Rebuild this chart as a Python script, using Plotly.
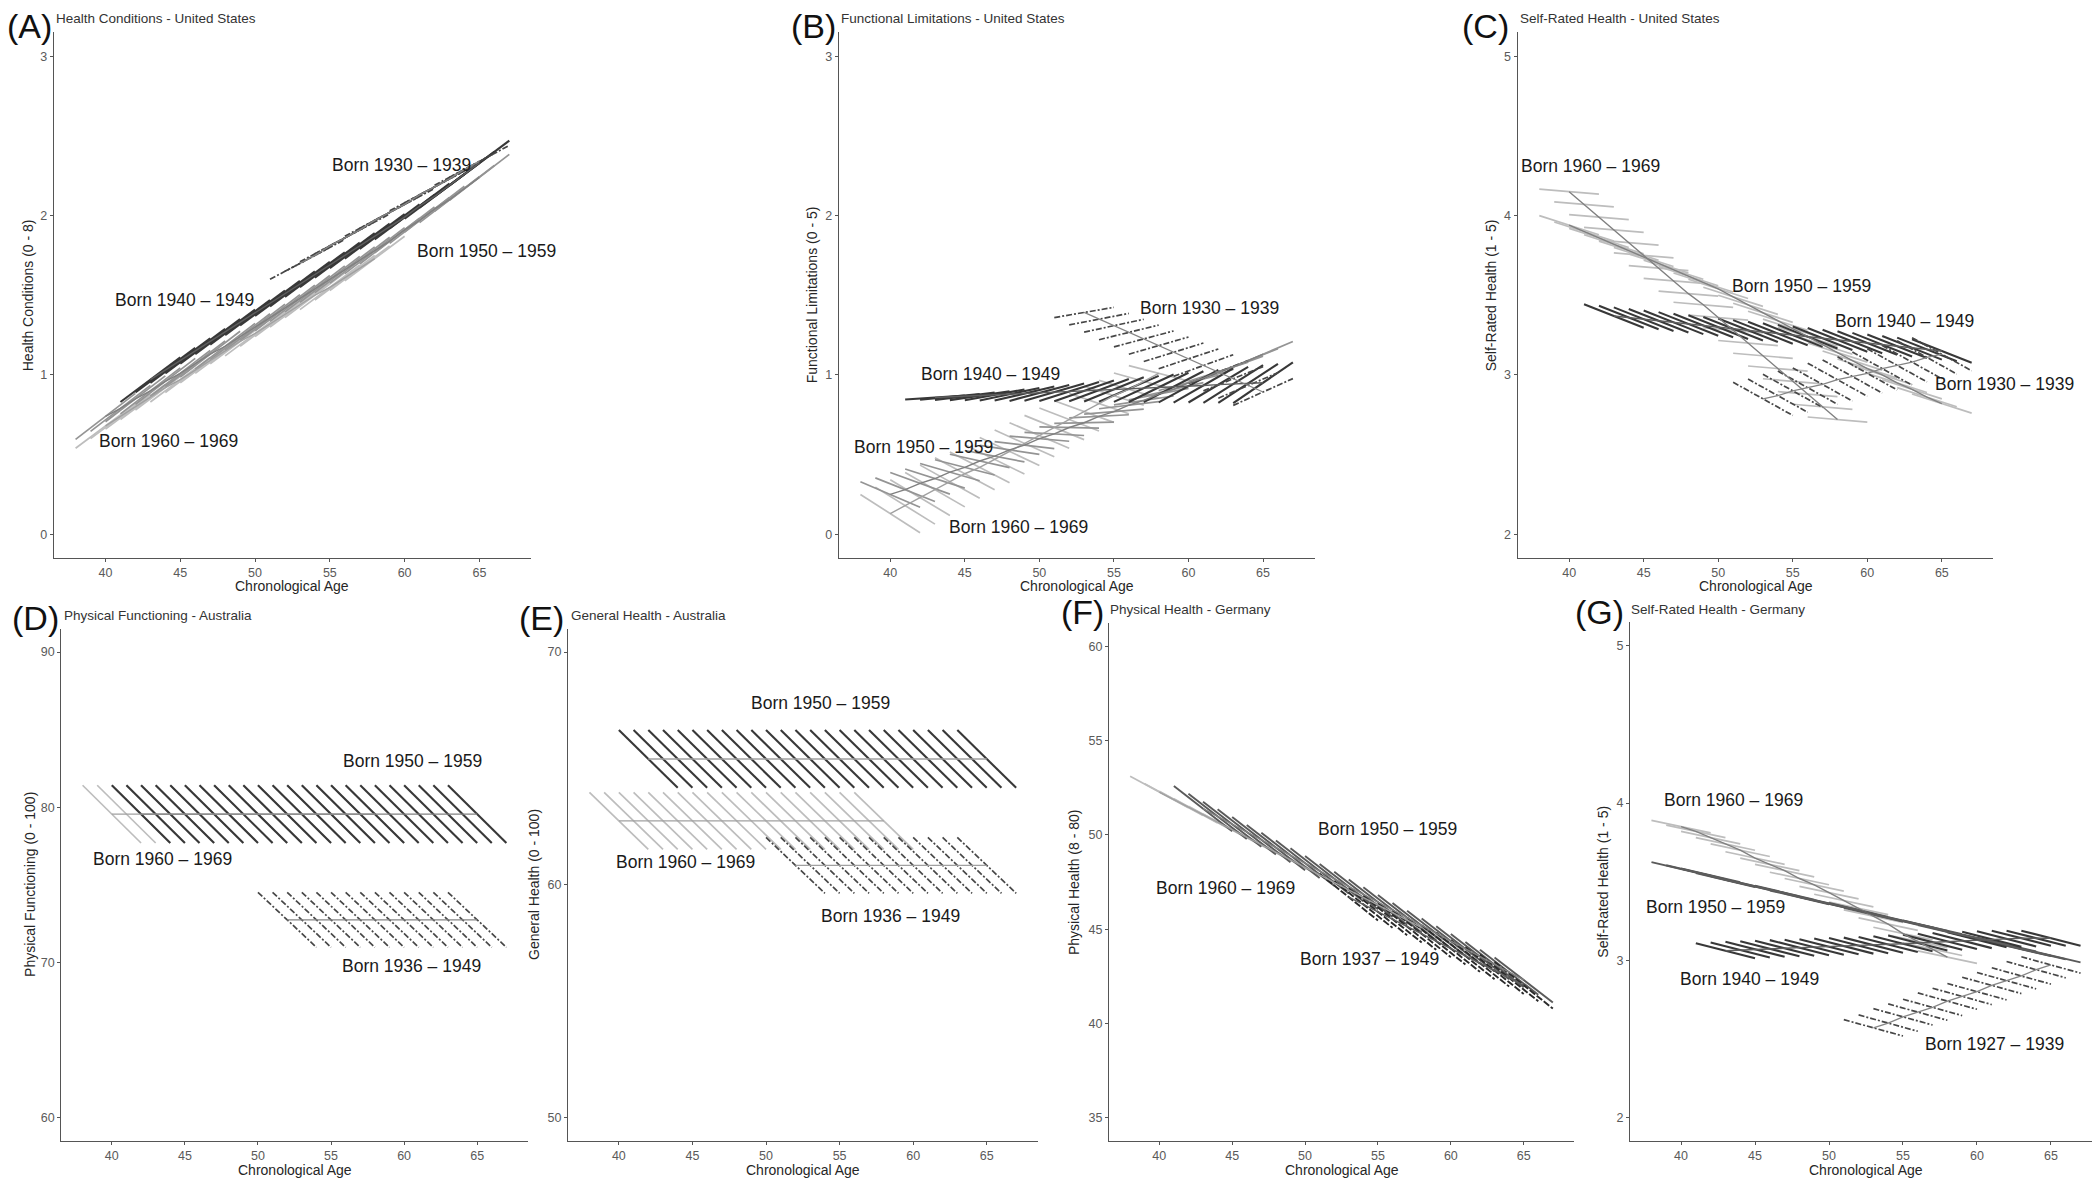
import plotly.graph_objects as go

W, H = 2100, 1181
FONT = "Liberation Sans, Arial, sans-serif"
SEG_LEN = 4
X_RANGE = [36.55, 68.45]
X_TICKS = [40, 45, 50, 55, 60, 65]

# segment start ages (chronological age at the start of each 4-year segment)
START_38_56 = [38, 39, 40, 41, 42, 43, 44, 45, 46, 47, 48, 49, 50, 51, 52, 53, 54, 55, 56]
START_38_63 = [38, 39, 40, 41, 42, 43, 44, 45, 46, 47, 48, 49, 50, 51, 52, 53, 54, 55, 56,
               57, 58, 59, 60, 61, 62, 63]
START_40_63 = [40, 41, 42, 43, 44, 45, 46, 47, 48, 49, 50, 51, 52, 53, 54, 55, 56, 57, 58,
               59, 60, 61, 62, 63]
START_41_63 = [41, 42, 43, 44, 45, 46, 47, 48, 49, 50, 51, 52, 53, 54, 55, 56, 57, 58, 59,
               60, 61, 62, 63]
START_50_63 = [50, 51, 52, 53, 54, 55, 56, 57, 58, 59, 60, 61, 62, 63]
START_51_63 = [51, 52, 53, 54, 55, 56, 57, 58, 59, 60, 61, 62, 63]

# ---------------- (A) Health Conditions - United States ----------------
A_MID_1960 = [0.68, 0.74, 0.80, 0.86, 0.92, 0.97, 1.03, 1.09, 1.15, 1.21, 1.26, 1.32, 1.38,
              1.44, 1.50, 1.55, 1.61, 1.67, 1.73]
A_SLOPE_1960 = 0.07
A_MID_1950 = [0.74, 0.79, 0.85, 0.90, 0.96, 1.01, 1.07, 1.13, 1.18, 1.24, 1.30, 1.36, 1.42,
              1.48, 1.54, 1.60, 1.66, 1.72, 1.78, 1.84, 1.91, 1.97, 2.04, 2.10, 2.17, 2.24]
A_SLOPE_1950 = 0.072
A_MID_1940 = [0.97, 1.03, 1.09, 1.15, 1.21, 1.27, 1.33, 1.39, 1.45, 1.51, 1.57, 1.63, 1.69,
              1.75, 1.81, 1.87, 1.93, 1.99, 2.06, 2.12, 2.19, 2.26, 2.33]
A_SLOPE_1940 = 0.07
A_MID_1930 = [1.70, 1.75, 1.81, 1.86, 1.91, 1.97, 2.02, 2.07, 2.13, 2.18, 2.23, 2.29, 2.34]
A_SLOPE_1930 = 0.05
A_LABELS = ["Born 1930 – 1939", "Born 1950 – 1959", "Born 1940 – 1949", "Born 1960 – 1969"]
A_LABEL_X = [59.8, 65.5, 45.3, 44.2]
A_LABEL_Y = [2.32, 1.78, 1.47, 0.586]

# ---------------- (B) Functional Limitations - United States ----------------
B_MID_1960 = [0.13, 0.18, 0.23, 0.28, 0.33, 0.38, 0.42, 0.47, 0.52, 0.57, 0.62, 0.67, 0.72,
              0.77, 0.82, 0.87, 0.91, 0.96, 1.01]
B_SLOPE_1960 = [-0.060, -0.058, -0.056, -0.054, -0.052, -0.050, -0.048, -0.046, -0.044,
                -0.042, -0.040, -0.038, -0.036, -0.034, -0.032, -0.030, -0.028, -0.026, -0.024]
B_MID_1950 = [0.25, 0.28, 0.32, 0.35, 0.39, 0.42, 0.46, 0.49, 0.53, 0.56, 0.60, 0.63, 0.67,
              0.70, 0.74, 0.77, 0.81, 0.84, 0.88, 0.91, 0.95, 0.98, 1.02, 1.05, 1.09, 1.13]
B_SLOPE_1950 = [-0.040, -0.037, -0.034, -0.030, -0.027, -0.024, -0.021, -0.018, -0.014,
                -0.011, -0.008, -0.005, -0.002, 0.002, 0.005, 0.008, 0.011, 0.014, 0.018,
                0.021, 0.024, 0.027, 0.030, 0.034, 0.037, 0.040]
B_MID_1940 = [0.858, 0.862, 0.866, 0.870, 0.875, 0.879, 0.883, 0.887, 0.892, 0.896, 0.900,
              0.905, 0.909, 0.913, 0.917, 0.922, 0.926, 0.930, 0.934, 0.939, 0.943, 0.947, 0.951]
B_SLOPE_1940 = [0.006, 0.009, 0.0115, 0.014, 0.017, 0.0195, 0.022, 0.025, 0.027, 0.030,
                0.0325, 0.035, 0.038, 0.0405, 0.043, 0.046, 0.0485, 0.051, 0.054, 0.056,
                0.059, 0.0615, 0.064]
B_MID_1930 = [1.392, 1.350, 1.309, 1.267, 1.226, 1.184, 1.142, 1.101, 1.059, 1.018, 0.976,
              0.934, 0.893]
B_SLOPE_1930 = [0.016, 0.018, 0.020, 0.023, 0.025, 0.027, 0.029, 0.031, 0.034, 0.036, 0.038,
                0.040, 0.042]
B_LABELS = ["Born 1930 – 1939", "Born 1940 – 1949", "Born 1950 – 1959", "Born 1960 – 1969"]
B_LABEL_X = [61.4, 46.75, 42.24, 48.6]
B_LABEL_Y = [1.417, 1.006, 0.55, 0.047]

# ---------------- (C) Self-Rated Health - United States ----------------
C_MID_1960 = [4.15, 4.07, 3.99, 3.91, 3.83, 3.75, 3.67, 3.59, 3.51, 3.44, 3.36, 3.28, 3.20,
              3.12, 3.04, 2.96, 2.88, 2.80, 2.72]
C_SLOPE_1960 = -0.008
C_MID_1950 = [3.94, 3.90, 3.86, 3.82, 3.78, 3.74, 3.70, 3.66, 3.62, 3.58, 3.54, 3.49, 3.44,
              3.39, 3.34, 3.29, 3.24, 3.19, 3.14, 3.09, 3.04, 3.00, 2.95, 2.91, 2.86, 2.82]
C_SLOPE_1950 = -0.03
C_MID_1940 = [3.37, 3.36, 3.35, 3.34, 3.33, 3.32, 3.31, 3.30, 3.29, 3.28, 3.27, 3.26, 3.25,
              3.24, 3.23, 3.22, 3.21, 3.20, 3.19, 3.18, 3.17, 3.16, 3.15]
C_SLOPE_1940 = -0.037
C_MID_1930 = [2.85, 2.87, 2.90, 2.92, 2.94, 2.97, 2.99, 3.01, 3.04, 3.06, 3.08, 3.11, 3.13]
C_SLOPE_1930 = -0.052
C_LABELS = ["Born 1960 – 1969", "Born 1950 – 1959", "Born 1940 – 1949", "Born 1930 – 1939"]
C_LABEL_X = [41.4, 55.56, 62.5, 69.2]
C_LABEL_Y = [4.31, 3.56, 3.34, 2.945]

# ---------------- (D) Physical Functioning - Australia ----------------
D_MID_1960 = [79.56, 79.56, 79.56, 79.56, 79.56, 79.56, 79.56, 79.56, 79.56, 79.56, 79.56,
              79.56, 79.56, 79.56, 79.56, 79.56, 79.56, 79.56, 79.56]
D_SLOPE_1960 = -0.93
D_MID_1950 = [79.56, 79.56, 79.56, 79.56, 79.56, 79.56, 79.56, 79.56, 79.56, 79.56, 79.56,
              79.56, 79.56, 79.56, 79.56, 79.56, 79.56, 79.56, 79.56, 79.56, 79.56, 79.56,
              79.56, 79.56]
D_SLOPE_1950 = -0.93
D_MID_1936 = [72.75, 72.75, 72.75, 72.75, 72.75, 72.75, 72.75, 72.75, 72.75, 72.75, 72.75,
              72.75, 72.75, 72.75]
D_SLOPE_1936 = -0.885
D_LABELS = ["Born 1950 – 1959", "Born 1960 – 1969", "Born 1936 – 1949"]
D_LABEL_X = [60.6, 43.5, 60.5]
D_LABEL_Y = [82.99, 76.7, 69.76]

# ---------------- (E) General Health - Australia ----------------
E_MID_1960 = [62.75, 62.75, 62.75, 62.75, 62.75, 62.75, 62.75, 62.75, 62.75, 62.75, 62.75,
              62.75, 62.75, 62.75, 62.75, 62.75, 62.75, 62.75, 62.75]
E_SLOPE_1960 = -0.61
E_MID_1950 = [65.41, 65.41, 65.41, 65.41, 65.41, 65.41, 65.41, 65.41, 65.41, 65.41, 65.41,
              65.41, 65.41, 65.41, 65.41, 65.41, 65.41, 65.41, 65.41, 65.41, 65.41, 65.41,
              65.41, 65.41]
E_SLOPE_1950 = -0.62
E_MID_1936 = [60.84, 60.84, 60.84, 60.84, 60.84, 60.84, 60.84, 60.84, 60.84, 60.84, 60.84,
              60.84, 60.84, 60.84]
E_SLOPE_1936 = -0.60
E_LABELS = ["Born 1950 – 1959", "Born 1960 – 1969", "Born 1936 – 1949"]
E_LABEL_X = [53.67, 44.54, 58.47]
E_LABEL_Y = [67.8, 60.98, 58.65]

# ---------------- (F) Physical Health - Germany ----------------
F_MID_1960 = [52.28, 51.88, 51.48, 51.08, 50.68, 50.28, 49.88, 49.48, 49.08, 48.68, 48.28,
              47.88, 47.48, 47.08, 46.68, 46.28, 45.88, 45.48, 45.08]
F_SLOPE_1960 = -0.42
F_MID_1950 = [51.40, 50.99, 50.57, 50.16, 49.75, 49.33, 48.92, 48.50, 48.09, 47.68, 47.26,
              46.85, 46.43, 46.02, 45.61, 45.19, 44.78, 44.36, 43.95, 43.54, 43.12, 42.71, 42.30]
F_SLOPE_1950 = -0.6
F_MID_1937 = [46.70, 46.31, 45.92, 45.53, 45.14, 44.75, 44.36, 43.97, 43.58, 43.19, 42.80,
              42.41, 42.02]
F_SLOPE_1937 = -0.62
F_LABELS = ["Born 1950 – 1959", "Born 1960 – 1969", "Born 1937 – 1949"]
F_LABEL_X = [55.66, 44.56, 54.43]
F_LABEL_Y = [50.31, 47.17, 43.43]

# ---------------- (G) Self-Rated Health - Germany ----------------
G_MID_1960 = [3.85, 3.82, 3.78, 3.74, 3.70, 3.65, 3.61, 3.57, 3.52, 3.48, 3.43, 3.38, 3.33,
              3.28, 3.23, 3.17, 3.12, 3.07, 3.02]
G_SLOPE_1960 = -0.02
G_MID_1950 = [3.58, 3.56, 3.54, 3.51, 3.49, 3.47, 3.45, 3.43, 3.40, 3.38, 3.36, 3.34, 3.32,
              3.29, 3.27, 3.25, 3.23, 3.21, 3.18, 3.16, 3.14, 3.12, 3.10, 3.07, 3.05, 3.03]
G_SLOPE_1950 = -0.022
G_MID_1940 = [3.060, 3.065, 3.070, 3.073, 3.076, 3.080, 3.083, 3.086, 3.090, 3.093, 3.096,
              3.100, 3.105, 3.110, 3.115, 3.120, 3.125, 3.130, 3.133, 3.136, 3.140, 3.140, 3.140]
G_SLOPE_1940 = -0.024
G_MID_1927 = [2.57, 2.60, 2.64, 2.67, 2.70, 2.74, 2.77, 2.80, 2.84, 2.87, 2.90, 2.94, 2.97]
G_SLOPE_1927 = -0.026
G_LABELS = ["Born 1960 – 1969", "Born 1950 – 1959", "Born 1940 – 1949", "Born 1927 – 1939"]
G_LABEL_X = [43.54, 42.31, 44.63, 61.2]
G_LABEL_Y = [4.02, 3.34, 2.88, 2.47]

# ---------------- styles ----------------
DASHDOT = "6px,2px,2px,2px"
SEG = {
    "light": dict(color="#bdbdbd", width=1.7, dash="solid"),
    "mid": dict(color="#949494", width=1.7, dash="solid"),
    "middark": dict(color="#5a5a5a", width=1.9, dash="solid"),
    "dark": dict(color="#383838", width=2.1, dash="solid"),
    "dashdot": dict(color="#474747", width=1.7, dash=DASHDOT),
    "dashed": dict(color="#2a2a2a", width=1.9, dash="7px,2px"),
}
LONG = {
    "light": dict(color="#a0a0a0", width=1.4),
    "mid": dict(color="#808080", width=1.4),
    "dark": dict(color="#5e5e5e", width=1.4),
    "old": dict(color="#858585", width=1.3),
}

BOTTOM_AXIS_Y = 1133.0
BOTTOM_TITLE_Y = 1162.0

PANELS = [
    dict(title="Health Conditions - United States", letter="(A)", ytitle="Health Conditions (0 - 8)",
         yrange=[-0.15, 3.15], yticks=[0, 1, 2, 3], box=(45.9, 523.0, 24.3, 550.2),
         letter_xy=(45, -2), sub_xy=(46, 11), ytitle_x=20, xtitle_y=577.6,
         cohorts=[(START_38_56, A_MID_1960, A_SLOPE_1960, "light", "light"),
                  (START_38_63, A_MID_1950, A_SLOPE_1950, "mid", "mid"),
                  (START_41_63, A_MID_1940, A_SLOPE_1940, "dark", "dark"),
                  (START_51_63, A_MID_1930, A_SLOPE_1930, "dashdot", "old")],
         labels=(A_LABELS, A_LABEL_X, A_LABEL_Y)),
    dict(title="Functional Limitations - United States", letter="(B)",
         ytitle="Functional Limitations (0 - 5)",
         yrange=[-0.15, 3.15], yticks=[0, 1, 2, 3], box=(830.8, 1306.5, 24.3, 550.2),
         letter_xy=(829, -2), sub_xy=(831, 11), ytitle_x=804, xtitle_y=577.6,
         cohorts=[(START_38_56, B_MID_1960, B_SLOPE_1960, "light", "light"),
                  (START_38_63, B_MID_1950, B_SLOPE_1950, "mid", "mid"),
                  (START_41_63, B_MID_1940, B_SLOPE_1940, "dark", "dark"),
                  (START_51_63, B_MID_1930, B_SLOPE_1930, "dashdot", "old")],
         labels=(B_LABELS, B_LABEL_X, B_LABEL_Y)),
    dict(title="Self-Rated Health - United States", letter="(C)", ytitle="Self-Rated Health (1 - 5)",
         yrange=[1.85, 5.15], yticks=[2, 3, 4, 5], box=(1509.7, 1985.3, 24.3, 550.2),
         letter_xy=(1502, -2), sub_xy=(1510, 11), ytitle_x=1483, xtitle_y=577.6,
         cohorts=[(START_38_56, C_MID_1960, C_SLOPE_1960, "light", "mid"),
                  (START_38_63, C_MID_1950, C_SLOPE_1950, "light", "mid"),
                  (START_41_63, C_MID_1940, C_SLOPE_1940, "dark", "dark"),
                  (START_51_63, C_MID_1930, C_SLOPE_1930, "dashdot", "old")],
         labels=(C_LABELS, C_LABEL_X, C_LABEL_Y)),
    dict(title="Physical Functioning - Australia", letter="(D)", ytitle="Physical Functioning (0 - 100)",
         yrange=[58.5, 91.5], yticks=[60, 70, 80, 90], box=(53.4, 519.6, 620.8, BOTTOM_AXIS_Y),
         letter_xy=(52, 590), sub_xy=(54, 608), ytitle_x=22, xtitle_y=BOTTOM_TITLE_Y,
         cohorts=[(START_38_56, D_MID_1960, D_SLOPE_1960, "light", "light"),
                  (START_40_63, D_MID_1950, D_SLOPE_1950, "dark", "mid"),
                  (START_50_63, D_MID_1936, D_SLOPE_1936, "dashdot", "old")],
         labels=(D_LABELS, D_LABEL_X, D_LABEL_Y)),
    dict(title="General Health - Australia", letter="(E)", ytitle="General Health (0 - 100)",
         yrange=[49, 71], yticks=[50, 60, 70], box=(560.1, 1029.5, 620.8, BOTTOM_AXIS_Y),
         letter_xy=(557, 590), sub_xy=(561, 608), ytitle_x=526, xtitle_y=BOTTOM_TITLE_Y,
         cohorts=[(START_38_56, E_MID_1960, E_SLOPE_1960, "light", "light"),
                  (START_40_63, E_MID_1950, E_SLOPE_1950, "dark", "light"),
                  (START_50_63, E_MID_1936, E_SLOPE_1936, "dashdot", "light")],
         labels=(E_LABELS, E_LABEL_X, E_LABEL_Y)),
    dict(title="Physical Health - Germany", letter="(F)", ytitle="Physical Health (8 - 80)",
         yrange=[33.75, 61.25], yticks=[35, 40, 45, 50, 55, 60],
         box=(1101.0, 1566.0, 615.1, BOTTOM_AXIS_Y),
         letter_xy=(1097, 584), sub_xy=(1100, 601), ytitle_x=1066, xtitle_y=BOTTOM_TITLE_Y,
         cohorts=[(START_38_56, F_MID_1960, F_SLOPE_1960, "light", "light"),
                  (START_41_63, F_MID_1950, F_SLOPE_1950, "middark", "mid"),
                  (START_51_63, F_MID_1937, F_SLOPE_1937, "dashed", "dark")],
         labels=(F_LABELS, F_LABEL_X, F_LABEL_Y)),
    dict(title="Self-Rated Health - Germany", letter="(G)", ytitle="Self-Rated Health (1 - 5)",
         yrange=[1.85, 5.15], yticks=[2, 3, 4, 5], box=(1622.0, 2094.0, 614.3, BOTTOM_AXIS_Y),
         letter_xy=(1617, 584), sub_xy=(1621, 601), ytitle_x=1595, xtitle_y=BOTTOM_TITLE_Y,
         cohorts=[(START_38_56, G_MID_1960, G_SLOPE_1960, "light", "mid"),
                  (START_38_63, G_MID_1950, G_SLOPE_1950, "middark", "dark"),
                  (START_41_63, G_MID_1940, G_SLOPE_1940, "dark", "dark"),
                  (START_51_63, G_MID_1927, G_SLOPE_1927, "dashdot", "old")],
         labels=(G_LABELS, G_LABEL_X, G_LABEL_Y)),
]


def px_x(v):
    return v / W


def px_y(v):
    return 1 - v / H


fig = go.Figure()
annotations = []
layout_axes = {}

for i, p in enumerate(PANELS, start=1):
    xa = "x" if i == 1 else f"x{i}"
    ya = "y" if i == 1 else f"y{i}"
    xkey = "xaxis" if i == 1 else f"xaxis{i}"
    ykey = "yaxis" if i == 1 else f"yaxis{i}"
    x0, x1, ytop, ybot = p["box"]
    px_per_year = (x1 - x0) / (X_RANGE[1] - X_RANGE[0])

    # within-person segments
    for starts, mids, slope, seg_style, _ in p["cohorts"]:
        slopes = slope if isinstance(slope, list) else [slope] * len(starts)
        xs, ys = [], []
        for a, m, s in zip(starts, mids, slopes):
            xs += [a, a + SEG_LEN, None]
            ys += [m - s * SEG_LEN / 2, m + s * SEG_LEN / 2, None]
        fig.add_trace(go.Scatter(x=xs, y=ys, mode="lines", line=SEG[seg_style],
                                 xaxis=xa, yaxis=ya, showlegend=False, hoverinfo="skip"))
    # cohort trajectories (through segment midpoints)
    for starts, mids, slope, _, long_style in p["cohorts"]:
        fig.add_trace(go.Scatter(x=[a + SEG_LEN / 2 for a in starts], y=mids, mode="lines",
                                 line=LONG[long_style], xaxis=xa, yaxis=ya,
                                 showlegend=False, hoverinfo="skip"))

    axis_common = dict(showgrid=False, zeroline=False, showline=True, linecolor="#555555",
                       linewidth=1.3, ticks="outside", ticklen=3, tickcolor="#555555",
                       tickwidth=1, tickfont=dict(family=FONT, size=12.5, color="#5a5a5a"))
    layout_axes[xkey] = dict(domain=[px_x(x0), px_x(x1)], range=X_RANGE, tickvals=X_TICKS,
                             anchor=ya, **axis_common)
    layout_axes[ykey] = dict(domain=[px_y(ybot), px_y(ytop)], range=p["yrange"],
                             tickvals=p["yticks"], anchor=xa, **axis_common)

    # cohort labels (labels hanging past the right edge are anchored inside and shifted)
    texts, lx, ly = p["labels"]
    for t, xv, yv in zip(texts, lx, ly):
        shift = 0
        xpos = xv
        if xv > X_RANGE[1] - 0.05:
            xpos = X_RANGE[1] - 0.05
            shift = (xv - xpos) * px_per_year
        annotations.append(dict(text=t, x=xpos, y=yv, xref=xa, yref=ya, showarrow=False,
                                xshift=shift,
                                font=dict(family=FONT, size=17.5, color="#1a1a1a"),
                                xanchor="center", yanchor="middle"))
    # panel letter
    lx0, ly0 = p["letter_xy"]
    annotations.append(dict(text=p["letter"], x=px_x(lx0), y=px_y(ly0), xref="paper", yref="paper",
                            showarrow=False, xanchor="right", yanchor="top",
                            font=dict(family=FONT, size=34, color="#111111"), borderpad=0))
    # subtitle
    sx, sy = p["sub_xy"]
    annotations.append(dict(text=p["title"], x=px_x(sx), y=px_y(sy), xref="paper", yref="paper",
                            showarrow=False, xanchor="left", yanchor="middle",
                            font=dict(family=FONT, size=13.5, color="#333333")))
    # axis titles
    annotations.append(dict(text="Chronological Age", x=px_x((x0 + x1) / 2), y=px_y(p["xtitle_y"]),
                            xref="paper", yref="paper", showarrow=False, xanchor="center",
                            yanchor="middle", font=dict(family=FONT, size=14, color="#262626")))
    annotations.append(dict(text=p["ytitle"], x=px_x(p["ytitle_x"]), y=px_y((ytop + ybot) / 2),
                            xref="paper", yref="paper", showarrow=False, xanchor="center",
                            yanchor="middle", textangle=-90,
                            font=dict(family=FONT, size=14, color="#262626")))

fig.update_layout(width=W, height=H, margin=dict(l=0, r=0, t=0, b=0),
                  paper_bgcolor="white", plot_bgcolor="white", showlegend=False,
                  font=dict(family=FONT), annotations=annotations, **layout_axes)

fig.write_html("out.html")
